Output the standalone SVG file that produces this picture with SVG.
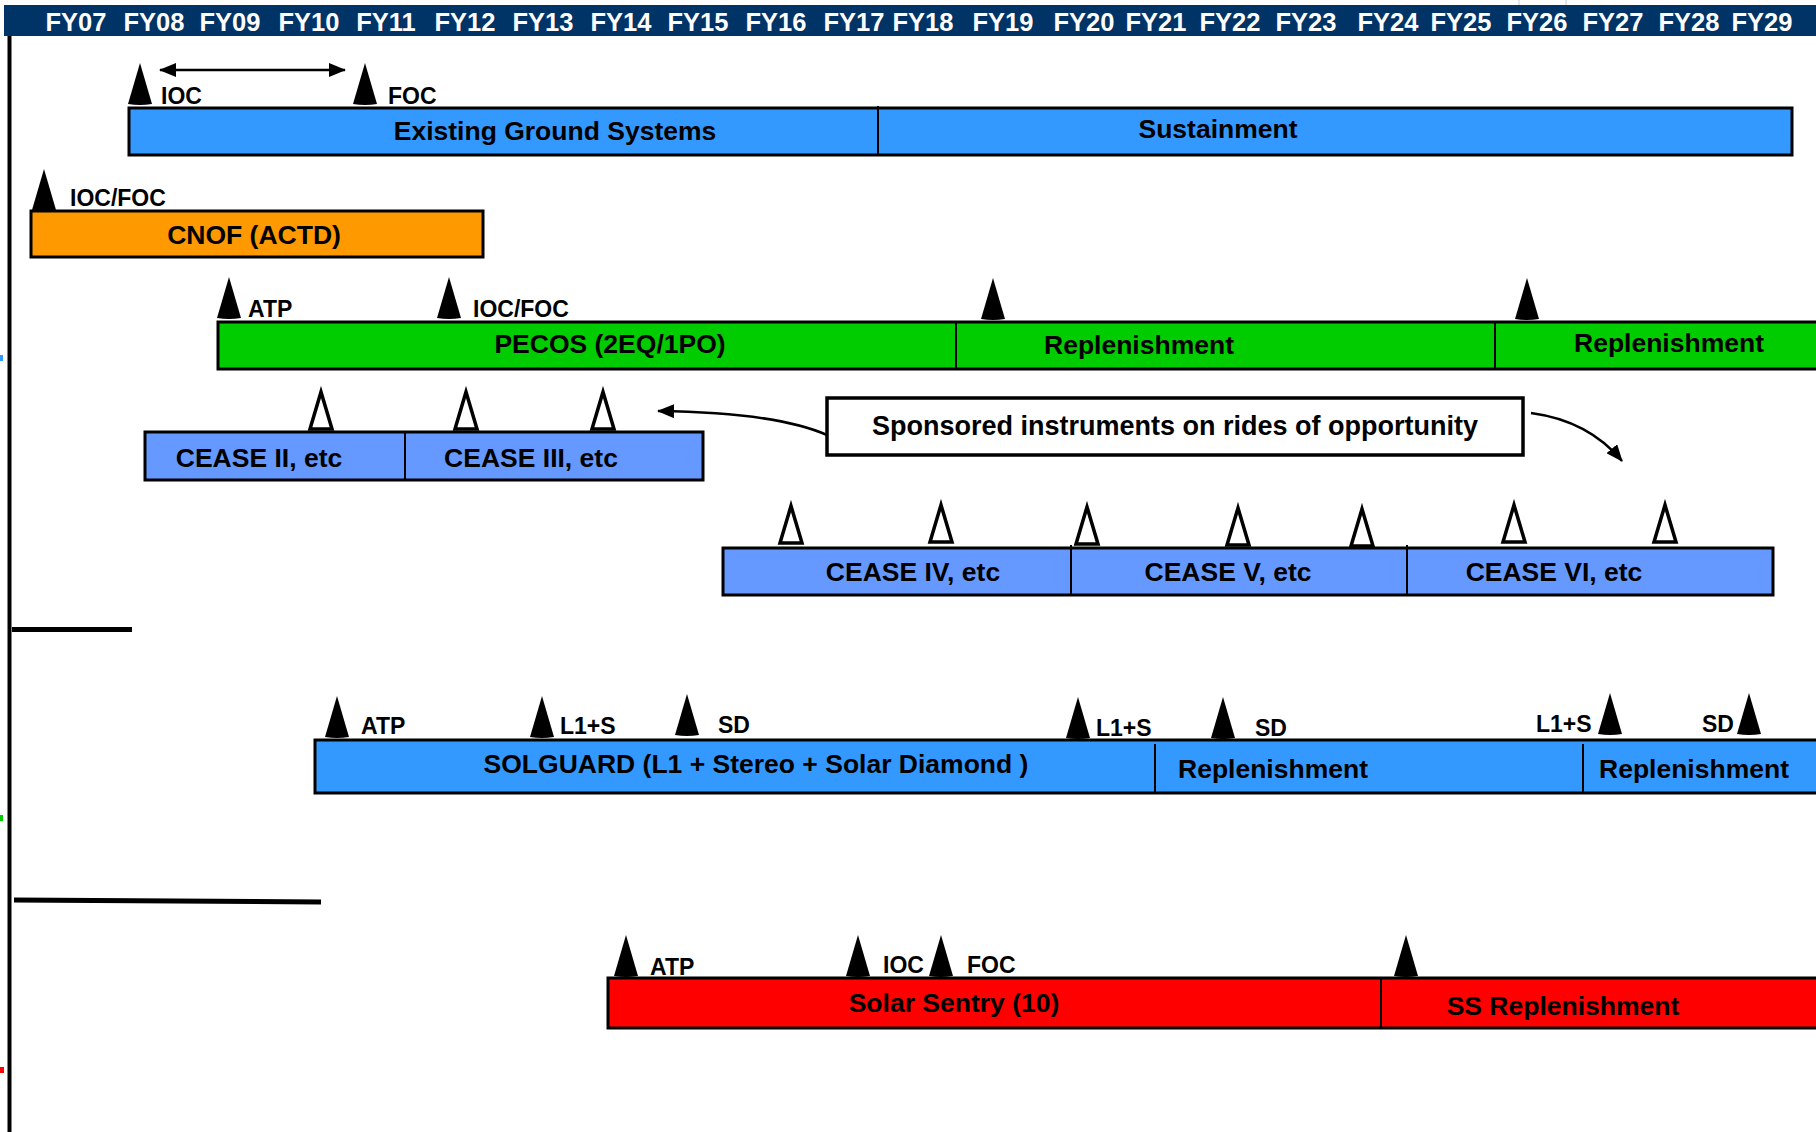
<svg xmlns="http://www.w3.org/2000/svg" xmlns:xlink="http://www.w3.org/1999/xlink" width="1816" height="1132" viewBox="0 0 1816 1132">
<style>
.hdr{font-family:"Liberation Sans",Arial,sans-serif;font-weight:bold;font-size:25.5px;fill:#fff;text-anchor:middle}
.lbl{font-family:"Liberation Sans",Arial,sans-serif;font-weight:bold;font-size:26.5px;fill:#000;text-anchor:middle}
.sm{font-family:"Liberation Sans",Arial,sans-serif;font-weight:bold;font-size:23px;fill:#000}
.bar{stroke:#000;stroke-width:3}
.div{stroke:#000;stroke-width:2}
.blue{fill:#3399FF}.cease{fill:#6699FF}.green{fill:#00CC00}.orange{fill:#FF9900}.red{fill:#FF0000}
.conn{fill:none;stroke:#000;stroke-width:2.5}
</style>
<defs>
<path id="tri" d="M-12,0 L0,-41 L12,0 Q0,2 -12,0 Z" fill="#000"/>
<path id="otri" d="M-11,0 L0,-37 L11,0 Z" fill="#fff" stroke="#000" stroke-width="3.5" stroke-linejoin="miter"/>
<marker id="ah" markerUnits="userSpaceOnUse" markerWidth="18" markerHeight="14" refX="16" refY="7" orient="auto-start-reverse">
<path d="M0,0 L17,7 L0,14 Z" fill="#000"/>
</marker>
</defs>
<rect width="1816" height="1132" fill="#fff"/>
<!-- header -->
<g id="header">
<rect x="4" y="5" width="1812" height="31" fill="#003366"/>
<line x1="1519" y1="0" x2="1519" y2="5" stroke="#ccc" stroke-width="1"/>
<line x1="1566" y1="0" x2="1566" y2="5" stroke="#ccc" stroke-width="1"/>
<text class="hdr" x="76" y="31">FY07</text>
<text class="hdr" x="154" y="31">FY08</text>
<text class="hdr" x="230" y="31">FY09</text>
<text class="hdr" x="309" y="31">FY10</text>
<text class="hdr" x="386" y="31">FY11</text>
<text class="hdr" x="465" y="31">FY12</text>
<text class="hdr" x="543" y="31">FY13</text>
<text class="hdr" x="621" y="31">FY14</text>
<text class="hdr" x="698" y="31">FY15</text>
<text class="hdr" x="776" y="31">FY16</text>
<text class="hdr" x="854" y="31">FY17</text>
<text class="hdr" x="923" y="31">FY18</text>
<text class="hdr" x="1003" y="31">FY19</text>
<text class="hdr" x="1084" y="31">FY20</text>
<text class="hdr" x="1156" y="31">FY21</text>
<text class="hdr" x="1230" y="31">FY22</text>
<text class="hdr" x="1306" y="31">FY23</text>
<text class="hdr" x="1388" y="31">FY24</text>
<text class="hdr" x="1461" y="31">FY25</text>
<text class="hdr" x="1537" y="31">FY26</text>
<text class="hdr" x="1613" y="31">FY27</text>
<text class="hdr" x="1689" y="31">FY28</text>
<text class="hdr" x="1762" y="31">FY29</text>
</g>
<!-- frame lines -->
<g id="frame">
<line x1="9.5" y1="36" x2="9.5" y2="1132" stroke="#000" stroke-width="4"/>
<line x1="12" y1="629.5" x2="132" y2="629.5" stroke="#000" stroke-width="5"/>
<line x1="14" y1="900" x2="321" y2="902" stroke="#000" stroke-width="5"/>
<rect x="0" y="355" width="3" height="6" fill="#3399FF"/>
<rect x="0" y="815" width="3" height="6" fill="#00CC00"/>
<rect x="0" y="1067" width="4" height="6" fill="#FF0000"/>
</g>
<!-- Row 1 -->
<g id="existing-ground">
<rect class="bar blue" x="129" y="108" width="1663" height="47"/>
<line class="div" x1="878" y1="106" x2="878" y2="155"/>
<text class="lbl" x="555" y="140">Existing Ground Systems</text>
<text class="lbl" x="1218" y="138">Sustainment</text>
<use xlink:href="#tri" href="#tri" x="140" y="104"/>
<use xlink:href="#tri" href="#tri" x="365" y="104"/>
<text class="sm" x="161" y="104">IOC</text>
<text class="sm" x="388" y="104">FOC</text>
</g>
<!-- Row 2 -->
<g id="cnof">
<rect class="bar orange" x="31" y="211" width="452" height="46"/>
<text class="lbl" x="254" y="244">CNOF (ACTD)</text>
<use xlink:href="#tri" href="#tri" x="44" y="210"/>
<text class="sm" x="70" y="206">IOC/FOC</text>
</g>
<!-- Row 3 -->
<g id="pecos">
<rect class="bar green" x="218" y="322" width="1610" height="47"/>
<line class="div" x1="956" y1="322" x2="956" y2="369"/>
<line class="div" x1="1495" y1="322" x2="1495" y2="369"/>
<text class="lbl" x="610" y="353">PECOS (2EQ/1PO)</text>
<text class="lbl" x="1139" y="354">Replenishment</text>
<text class="lbl" x="1669" y="352">Replenishment</text>
<use xlink:href="#tri" href="#tri" x="229" y="318"/>
<use xlink:href="#tri" href="#tri" x="449" y="318"/>
<use xlink:href="#tri" href="#tri" x="993" y="319"/>
<use xlink:href="#tri" href="#tri" x="1527" y="319"/>
<text class="sm" x="248" y="317">ATP</text>
<text class="sm" x="473" y="317">IOC/FOC</text>
</g>
<!-- Row 4 -->
<g id="cease-2-3">
<rect class="bar cease" x="145" y="432" width="558" height="48"/>
<line class="div" x1="405" y1="432" x2="405" y2="480"/>
<text class="lbl" x="259" y="467">CEASE II, etc</text>
<text class="lbl" x="531" y="467">CEASE III, etc</text>
<use xlink:href="#otri" href="#otri" x="321" y="429"/>
<use xlink:href="#otri" href="#otri" x="466" y="429"/>
<use xlink:href="#otri" href="#otri" x="603" y="429"/>
</g>
<g id="callout">
<rect x="827" y="398" width="696" height="57" fill="#fff" stroke="#000" stroke-width="3.5"/>
<text class="lbl" x="1175" y="435" style="font-size:27px">Sponsored instruments on rides of opportunity</text>
</g>
<!-- Row 5 -->
<g id="cease-4-6">
<rect class="bar cease" x="723" y="548" width="1050" height="47"/>
<line class="div" x1="1071" y1="545" x2="1071" y2="595"/>
<line class="div" x1="1407" y1="545" x2="1407" y2="595"/>
<text class="lbl" x="913" y="581">CEASE IV, etc</text>
<text class="lbl" x="1228" y="581">CEASE V, etc</text>
<text class="lbl" x="1554" y="581">CEASE VI, etc</text>
<use xlink:href="#otri" href="#otri" x="791" y="543"/>
<use xlink:href="#otri" href="#otri" x="941" y="542"/>
<use xlink:href="#otri" href="#otri" x="1087" y="544"/>
<use xlink:href="#otri" href="#otri" x="1238" y="545"/>
<use xlink:href="#otri" href="#otri" x="1362" y="546"/>
<use xlink:href="#otri" href="#otri" x="1514" y="542"/>
<use xlink:href="#otri" href="#otri" x="1665" y="542"/>
</g>
<!-- Row 6 -->
<g id="solguard">
<rect class="bar blue" x="315" y="740" width="1513" height="53"/>
<line class="div" x1="1155" y1="744" x2="1155" y2="793"/>
<line class="div" x1="1583" y1="744" x2="1583" y2="793"/>
<text class="lbl" x="756" y="773">SOLGUARD (L1 + Stereo + Solar Diamond )</text>
<text class="lbl" x="1273" y="778">Replenishment</text>
<text class="lbl" x="1694" y="778">Replenishment</text>
<use xlink:href="#tri" href="#tri" x="337" y="737"/>
<use xlink:href="#tri" href="#tri" x="542" y="737"/>
<use xlink:href="#tri" href="#tri" x="687" y="735"/>
<use xlink:href="#tri" href="#tri" x="1078" y="738"/>
<use xlink:href="#tri" href="#tri" x="1223" y="738"/>
<use xlink:href="#tri" href="#tri" x="1610" y="734"/>
<use xlink:href="#tri" href="#tri" x="1749" y="734"/>
<text class="sm" x="361" y="734">ATP</text>
<text class="sm" x="560" y="734">L1+S</text>
<text class="sm" x="718" y="733">SD</text>
<text class="sm" x="1096" y="736">L1+S</text>
<text class="sm" x="1255" y="736">SD</text>
<text class="sm" x="1536" y="732">L1+S</text>
<text class="sm" x="1702" y="732">SD</text>
</g>
<!-- Row 7 -->
<g id="solar-sentry">
<rect class="bar red" x="608" y="978" width="1220" height="50"/>
<line class="div" x1="1381" y1="978" x2="1381" y2="1028"/>
<text class="lbl" x="954" y="1012">Solar Sentry (10)</text>
<text class="lbl" x="1563" y="1015">SS Replenishment</text>
<use xlink:href="#tri" href="#tri" x="626" y="976"/>
<use xlink:href="#tri" href="#tri" x="858" y="976"/>
<use xlink:href="#tri" href="#tri" x="941" y="976"/>
<use xlink:href="#tri" href="#tri" x="1406" y="976"/>
<text class="sm" x="650" y="975">ATP</text>
<text class="sm" x="883" y="973">IOC</text>
<text class="sm" x="967" y="973">FOC</text>
</g>
<!-- connectors -->
<g id="connectors">
<line class="conn" x1="160" y1="70" x2="345" y2="70" marker-start="url(#ah)" marker-end="url(#ah)"/>
<path class="conn" d="M827,435 C795,421 745,412 658,411" marker-end="url(#ah)"/>
<path class="conn" d="M1531,413 C1568,418 1598,432 1622,461" marker-end="url(#ah)"/>
</g>
</svg>
